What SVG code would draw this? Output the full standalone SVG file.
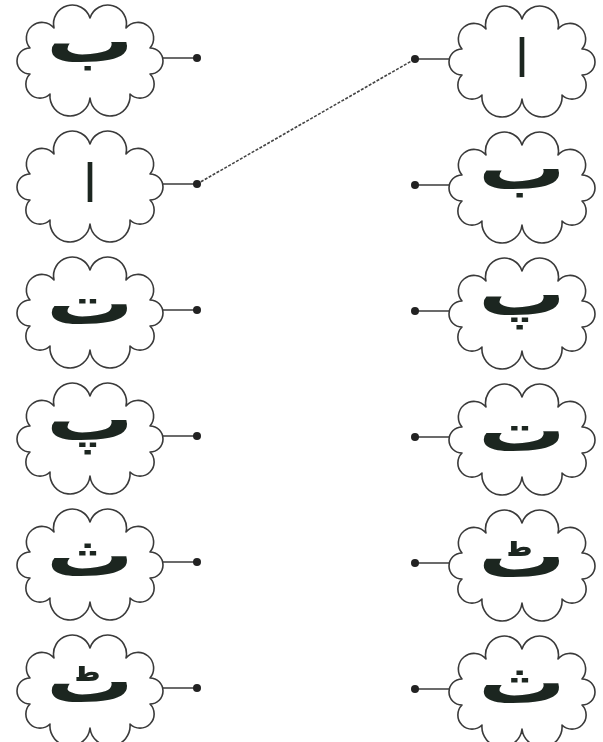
<svg xmlns="http://www.w3.org/2000/svg" xmlns:xlink="http://www.w3.org/1999/xlink" width="603" height="742" viewBox="0 0 603 742">
<style>
.cloud{fill:#fff;stroke:#3a3a3a;stroke-width:1.6;stroke-linejoin:round}
.stub{stroke:#3a3a3a;stroke-width:1.4}
.dot{fill:#222}
.let{font-family:"DejaVu Sans",sans-serif;font-weight:bold;font-size:60px;fill:#1c2620;text-anchor:middle}
.alif{font-family:"DejaVu Sans",sans-serif;font-weight:normal;font-size:52px;fill:#1c2620;text-anchor:middle}
.match{stroke:#444;stroke-width:1.6;stroke-dasharray:3 1.5;fill:none}
</style>
<defs>
<path id="cl" d="M0,-40 A18.7,18.7 0 0 1 36,-30 A15.6,15.6 0 0 1 60,-10 A13,13 0 0 1 60,16 A14.1,14.1 0 0 1 40,36 A20.1,20.1 0 0 1 0,40 A20.1,20.1 0 0 1 -40,36 A14.1,14.1 0 0 1 -60,16 A13,13 0 0 1 -60,-10 A15.6,15.6 0 0 1 -36,-30 A18.7,18.7 0 0 1 0,-40 Z"/>
</defs>
<rect width="603" height="742" fill="#fff"/>
<g id="connectors">
<line class="match" x1="197" y1="184" x2="415" y2="59"/>
</g>
<g id="left-1" transform="translate(90,58)"><use xlink:href="#cl" class="cloud"/><line class="stub" x1="73" y1="0" x2="107" y2="0"/><circle class="dot" cx="107" cy="0" r="4"/><text class="let" transform="scale(1.45,1)" x="0" y="4">ب</text></g>
<g id="left-2" transform="translate(90,184)"><use xlink:href="#cl" class="cloud"/><line class="stub" x1="73" y1="0" x2="107" y2="0"/><circle class="dot" cx="107" cy="0" r="4"/><text class="alif" x="0" y="18">ا</text></g>
<g id="left-3" transform="translate(90,310)"><use xlink:href="#cl" class="cloud"/><line class="stub" x1="73" y1="0" x2="107" y2="0"/><circle class="dot" cx="107" cy="0" r="4"/><text class="let" transform="scale(1.45,1)" x="0" y="14">ت</text></g>
<g id="left-4" transform="translate(90,436)"><use xlink:href="#cl" class="cloud"/><line class="stub" x1="73" y1="0" x2="107" y2="0"/><circle class="dot" cx="107" cy="0" r="4"/><text class="let" transform="scale(1.45,1)" x="0" y="4">پ</text></g>
<g id="left-5" transform="translate(90,562)"><use xlink:href="#cl" class="cloud"/><line class="stub" x1="73" y1="0" x2="107" y2="0"/><circle class="dot" cx="107" cy="0" r="4"/><text class="let" transform="scale(1.45,1)" x="0" y="14">ث</text></g>
<g id="left-6" transform="translate(90,688)"><use xlink:href="#cl" class="cloud"/><line class="stub" x1="73" y1="0" x2="107" y2="0"/><circle class="dot" cx="107" cy="0" r="4"/><text class="let" transform="scale(1.45,1)" x="0" y="14">ٹ</text></g>
<g id="right-1" transform="translate(522,59)"><use xlink:href="#cl" class="cloud"/><line class="stub" x1="-73" y1="0" x2="-107" y2="0"/><circle class="dot" cx="-107" cy="0" r="4"/><text class="alif" x="0" y="18">ا</text></g>
<g id="right-2" transform="translate(522,185)"><use xlink:href="#cl" class="cloud"/><line class="stub" x1="-73" y1="0" x2="-107" y2="0"/><circle class="dot" cx="-107" cy="0" r="4"/><text class="let" transform="scale(1.45,1)" x="0" y="4">ب</text></g>
<g id="right-3" transform="translate(522,311)"><use xlink:href="#cl" class="cloud"/><line class="stub" x1="-73" y1="0" x2="-107" y2="0"/><circle class="dot" cx="-107" cy="0" r="4"/><text class="let" transform="scale(1.45,1)" x="0" y="4">پ</text></g>
<g id="right-4" transform="translate(522,437)"><use xlink:href="#cl" class="cloud"/><line class="stub" x1="-73" y1="0" x2="-107" y2="0"/><circle class="dot" cx="-107" cy="0" r="4"/><text class="let" transform="scale(1.45,1)" x="0" y="14">ت</text></g>
<g id="right-5" transform="translate(522,563)"><use xlink:href="#cl" class="cloud"/><line class="stub" x1="-73" y1="0" x2="-107" y2="0"/><circle class="dot" cx="-107" cy="0" r="4"/><text class="let" transform="scale(1.45,1)" x="0" y="14">ٹ</text></g>
<g id="right-6" transform="translate(522,689)"><use xlink:href="#cl" class="cloud"/><line class="stub" x1="-73" y1="0" x2="-107" y2="0"/><circle class="dot" cx="-107" cy="0" r="4"/><text class="let" transform="scale(1.45,1)" x="0" y="14">ث</text></g>
</svg>
